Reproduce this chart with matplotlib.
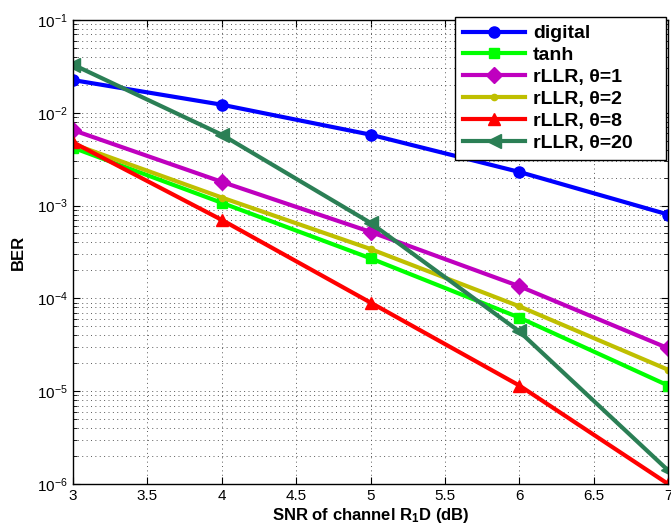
import matplotlib
matplotlib.use("Agg")
import matplotlib.pyplot as plt
from matplotlib.ticker import LogLocator, NullFormatter, MultipleLocator, FormatStrFormatter

plt.rcParams['font.family'] = ['Liberation Sans', 'DejaVu Sans']
plt.rcParams['mathtext.fontset'] = 'custom'
plt.rcParams['mathtext.rm'] = 'Liberation Sans'
plt.rcParams['mathtext.it'] = 'Liberation Sans:italic'
plt.rcParams['mathtext.bf'] = 'Liberation Sans:bold'

# BER vs SNR (dB) for each detector
snr = [3, 4, 5, 6, 7]
ber_digital = [0.0225, 0.0122, 0.0058, 0.0023, 0.0008]
ber_tanh = [0.0042, 0.00107, 0.00027, 6.2e-5, 1.15e-5]
ber_rllr1 = [0.0065, 0.0018, 0.00052, 0.000135, 2.9e-5]
ber_rllr2 = [0.0046, 0.00122, 0.00034, 8.2e-5, 1.7e-5]
ber_rllr8 = [0.0048, 0.0007, 9.0e-5, 1.15e-5, 1.0e-6]
ber_rllr20 = [0.033, 0.0058, 0.00065, 4.4e-5, 1.4e-6]

labels = ['digital', 'tanh', 'rLLR, θ=1', 'rLLR, θ=2', 'rLLR, θ=8', 'rLLR, θ=20']
series = [ber_digital, ber_tanh, ber_rllr1, ber_rllr2, ber_rllr8, ber_rllr20]
colors = ['#0000ff', '#00ff00', '#bf00bf', '#bfbf00', '#ff0000', '#2b7f55']
markers = ['o', 's', 'D', '.', '^', '<']
msizes = [8, 7, 8, 9, 9, 10]

fig = plt.figure(figsize=(6.71, 5.31), dpi=100)
ax = fig.add_axes([0.1088, 0.0885, 0.887, 0.874])

for y, lab, c, m, ms in zip(series, labels, colors, markers, msizes):
    ax.semilogy(snr, y, color=c, marker=m, markersize=ms, linewidth=3,
                label=lab)

ax.set_xlim(3, 7)
ax.set_ylim(1e-6, 1e-1)
ax.xaxis.set_major_locator(MultipleLocator(0.5))
ax.xaxis.set_major_formatter(FormatStrFormatter('%g'))
ax.yaxis.set_major_locator(LogLocator(base=10, numticks=10))
ax.yaxis.set_minor_locator(LogLocator(base=10, subs=range(2, 10), numticks=10))
ax.yaxis.set_minor_formatter(NullFormatter())

ax.grid(True, which='major', linestyle=(0, (1, 3.5)), color='0.35', linewidth=0.7)
ax.grid(True, which='minor', axis='y', linestyle=(0, (1, 3.5)), color='0.35',
        linewidth=0.7)

ax.tick_params(which='both', direction='in', top=True, right=True,
               labelsize=11)
ax.tick_params(which='major', length=5)
ax.tick_params(which='minor', length=3)
for s in ax.spines.values():
    s.set_linewidth(1.0)

ax.set_xlabel(r'SNR of channel R$_{\mathbf{1}}$D (dB)', fontsize=12,
              fontweight='bold', labelpad=2)
ax.set_ylabel('BER', fontsize=12, fontweight='bold', labelpad=8)

# legend box stretched to a fixed width, top right
leg_box = (455 / 671, 1 - 160 / 531, 211 / 671, 143 / 531)
leg = ax.legend(loc='upper left', bbox_to_anchor=leg_box, mode='expand',
                bbox_transform=fig.transFigure, fancybox=False, framealpha=1,
                edgecolor='black', prop={'weight': 'bold', 'size': 14},
                handlelength=3.2, labelspacing=0.22, borderpad=0.4,
                handletextpad=0.4, borderaxespad=0)
leg.get_frame().set_linewidth(1.0)

fig.savefig('out.png', dpi=100)
